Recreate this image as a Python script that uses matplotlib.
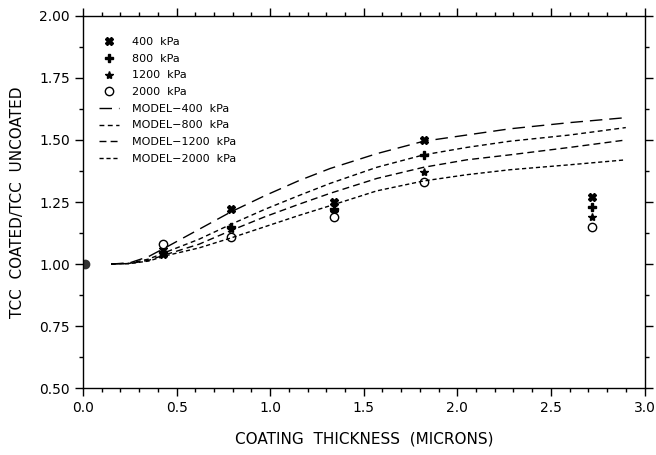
import matplotlib.pyplot as plt
from matplotlib.ticker import MultipleLocator

# measured points (coating thickness in microns, TCC ratio)
x_meas = [0.43, 0.79, 1.34, 1.82, 2.72]
y_400 = [1.04, 1.22, 1.25, 1.50, 1.27]
y_800 = [1.05, 1.15, 1.22, 1.44, 1.23]
y_1200 = [1.06, 1.14, 1.21, 1.37, 1.19]
y_2000 = [1.08, 1.11, 1.19, 1.33, 1.15]
x_zero = [0.01]
y_zero = [1.00]

# model curves
x_model = [0.15, 0.25, 0.35, 0.45, 0.62, 0.79, 0.97, 1.15, 1.32, 1.57, 1.82, 2.05, 2.28, 2.6, 2.9]
m_400 = [1.00, 1.005, 1.03, 1.07, 1.14, 1.21, 1.275, 1.335, 1.385, 1.445, 1.495, 1.52, 1.545, 1.57, 1.59]
m_800 = [1.00, 1.003, 1.02, 1.05, 1.10, 1.16, 1.22, 1.275, 1.325, 1.39, 1.44, 1.47, 1.495, 1.52, 1.55]
m_1200 = [1.00, 1.002, 1.015, 1.04, 1.08, 1.135, 1.19, 1.24, 1.285, 1.345, 1.39, 1.42, 1.44, 1.47, 1.50]
m_2000 = [1.00, 1.002, 1.012, 1.035, 1.065, 1.105, 1.15, 1.195, 1.235, 1.295, 1.335, 1.36, 1.38, 1.40, 1.42]

fig = plt.figure(figsize=(6.56, 4.55), dpi=100)
ax = fig.add_axes([0.1265, 0.147, 0.856, 0.818])

ax.plot(x_meas, y_400, ls='none', marker='X', ms=6, color='black', label='400  kPa')
ax.plot(x_meas, y_800, ls='none', marker='P', ms=6, color='black', label='800  kPa')
ax.plot(x_meas, y_1200, ls='none', marker='*', ms=6, color='black', label='1200  kPa')
ax.plot(x_meas, y_2000, ls='none', marker='o', ms=6, mfc='white', mec='black', mew=1, label='2000  kPa')
ax.plot(x_zero, y_zero, ls='none', marker='o', ms=6, color='#333333')

ax.plot(x_model, m_400, color='black', lw=1, dashes=(9, 5), label='MODEL\u2212400  kPa')
ax.plot(x_model, m_800, color='black', lw=1, dashes=(3.5, 2.5), label='MODEL\u2212800  kPa')
ax.plot(x_model, m_1200, color='black', lw=1, dashes=(5, 3), label='MODEL\u22121200  kPa')
ax.plot(x_model, m_2000, color='black', lw=1, dashes=(3, 2), label='MODEL\u22122000  kPa')

ax.set_xlim(0, 3.0)
ax.set_ylim(0.5, 2.0)
ax.xaxis.set_major_locator(MultipleLocator(0.5))
ax.xaxis.set_minor_locator(MultipleLocator(0.1))
ax.yaxis.set_major_locator(MultipleLocator(0.25))
ax.yaxis.set_minor_locator(MultipleLocator(0.125))
ax.xaxis.set_major_formatter(plt.FuncFormatter(lambda v, p: '%.1f' % v))
ax.yaxis.set_major_formatter(plt.FuncFormatter(lambda v, p: '%.2f' % v))

ax.tick_params(which='both', top=True, right=True, direction='out', labelsize=10, width=1)
ax.tick_params(which='major', length=6)
ax.tick_params(which='minor', length=3)
for s in ax.spines.values():
    s.set_linewidth(1)

ax.set_xlabel('COATING  THICKNESS  (MICRONS)', fontsize=11, labelpad=12)
ax.set_ylabel('TCC  COATED/TCC  UNCOATED', fontsize=11, labelpad=10)

ax.legend(loc='upper left', bbox_to_anchor=(0.02, 0.955), frameon=False, fontsize=8,
          handlelength=1.8, handletextpad=1.2, labelspacing=0.6, borderaxespad=0)

fig.savefig('out.png', dpi=100)
